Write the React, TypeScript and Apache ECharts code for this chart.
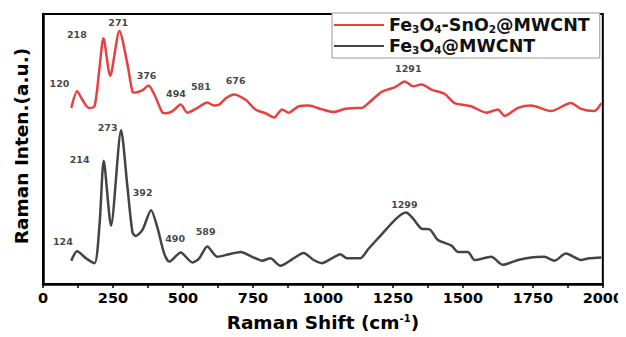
import React, { useEffect, useRef } from "react";
import * as echarts from "echarts";

const redName = "Fe3O4-SnO2@MWCNT";
const blackName = "Fe3O4@MWCNT";

const redX = [101,122,140,163,184,200,216,240,273,302,320,332,356,377,398,427,439,463,492,516,546,587,611,629,653,682,724,759,795,825,854,878,914,949,997,1038,1080,1121,1139,1169,1210,1258,1293,1323,1352,1388,1435,1471,1530,1584,1625,1649,1697,1744,1815,1886,1922,1969,1995];
const redY = [183.3,200.7,192,183.3,185,220,255.7,216.7,263.3,228.3,200,199.3,201.7,206.7,197,178.3,177.7,180,186.7,178.3,182.3,189,185.7,186.7,193.3,197.3,191.7,181.7,177.7,173.3,181.7,178.3,185,185.7,181.7,179,182.3,183.3,183.3,190,200,205,210.7,205.7,207.7,202.3,197.7,188.3,185,178.3,181.7,175,183.3,185.7,180,188.3,182.3,180,188.3];

const blackX = [101,122,154,184,202,217,243,279,302,320,332,356,386,409,433,451,492,534,558,587,623,665,706,747,783,812,848,890,931,967,997,1032,1062,1086,1133,1163,1210,1263,1297,1323,1352,1382,1411,1459,1483,1518,1542,1601,1643,1697,1744,1791,1827,1868,1922,1951,1995];
const blackY = [24.3,34,26.7,21.7,62,128.3,60.7,160,100,53.3,50,56.7,76.7,58.3,31.7,23.3,32.7,22.3,26.7,39,28.3,31,33.3,28.3,24.3,26.7,19,25.7,32.3,25,21.7,26.7,31,26.7,26.7,36.7,51.7,68.3,74.3,67.7,57.7,56.7,45.7,40,33.3,33.3,25,28.3,20,25,27.7,28.3,24.3,31.7,25,26.7,27.7];

const peakLabels = ["120","218","271","376","494","581","676","1291","273","214","392","124","490","589","1299"];
const peakLabelX = [59,121,269,370,475,564,688,1305,231,131,356,71,472,581,1291];
const peakLabelY = [209,260,271.7,216.7,198.3,206,211.7,224,162.7,130,95,44,47.7,55,82.7];

const xTicks = [0,250,500,750,1000,1250,1500,1750,2000];

const toRich = (name: string) => "{n|" + name.replace(/(\d)/g, "}{s|$1}{n|") + "}";

export default function App() {
  const ref = useRef<HTMLDivElement>(null);
  useEffect(() => {
    if (!ref.current) return;
    const chart = echarts.init(ref.current, undefined, { renderer: "svg" });
    const font = "DejaVu Sans";
    chart.setOption({
      animation: false,
      backgroundColor: "#fff",
      grid: { left: 43, right: 21, top: 14, bottom: 42, show: true, borderColor: "#000", borderWidth: 2 },
      legend: {
        data: [redName, blackName],
        orient: "vertical",
        left: 332,
        top: 13,
        padding: [3, 10, 3, 2],
        itemGap: 3,
        itemWidth: 50,
        itemHeight: 2,
        icon: "rect",
        borderColor: "#999",
        borderWidth: 1,
        backgroundColor: "#fff",
        formatter: (n: string) => toRich(n),
        textStyle: {
          rich: {
            n: { fontSize: 17.5, fontWeight: "bold", fontFamily: font, color: "#111", lineHeight: 18 },
            s: { fontSize: 10.5, fontWeight: "bold", fontFamily: font, color: "#111", lineHeight: 18, verticalAlign: "bottom", padding: [7, 0, 0, 0] },
          },
        },
      },
      xAxis: {
        type: "value",
        min: 0,
        max: 2000,
        interval: 250,
        name: "{a|Raman Shift (cm}{b|-1}{a|)}",
        nameLocation: "middle",
        nameGap: 29,
        nameTextStyle: {
          rich: {
            a: { fontSize: 18.5, fontWeight: "bold", fontFamily: font, color: "#000" },
            b: { fontSize: 10, fontWeight: "bold", fontFamily: font, color: "#000", verticalAlign: "top", padding: [0, 0, 9, 0] },
          },
        },
        axisLine: { lineStyle: { color: "#000", width: 2.5 } },
        axisTick: { show: true, length: 4, lineStyle: { color: "#000", width: 1.5 } },
        minorTick: { show: true, splitNumber: 2, length: 4, lineStyle: { color: "#000", width: 1.5 } },
        splitLine: { show: false },
        axisLabel: {
          fontSize: 14.5, fontWeight: "bold", fontFamily: font, color: "#000", margin: 6,
          formatter: (v: number) => (xTicks.includes(v) ? String(v) : ""),
        },
      },
      yAxis: {
        type: "value",
        min: 0,
        max: 281,
        axisLine: { show: true, lineStyle: { color: "#000", width: 2.5 } },
        axisTick: { show: false },
        axisLabel: { show: false },
        splitLine: { show: false },
      },
      graphic: [
        {
          type: "text",
          x: 21,
          y: 146,
          rotation: Math.PI / 2,
          style: {
            text: "Raman Inten.(a.u.)",
            fontSize: 18.5,
            fontWeight: "bold",
            fontFamily: font,
            fill: "#000",
            align: "center",
            verticalAlign: "middle",
          },
        },
      ],
      series: [
        {
          name: redName,
          type: "line",
          data: redX.map((x, i) => [x, redY[i]]),
          symbol: "none",
          smooth: 0.25,
          lineStyle: { color: "#e8403f", width: 2.5 },
          itemStyle: { color: "#e8403f" },
          z: 3,
        },
        {
          name: blackName,
          type: "line",
          data: blackX.map((x, i) => [x, blackY[i]]),
          symbol: "none",
          smooth: 0.25,
          lineStyle: { color: "#444", width: 2.5 },
          itemStyle: { color: "#444" },
          z: 3,
        },
        {
          name: "labels",
          type: "scatter",
          data: peakLabelX.map((x, i) => ({ value: [x, peakLabelY[i]], name: peakLabels[i] })),
          symbolSize: 0,
          label: {
            show: true,
            position: "inside",
            formatter: (p: any) => p.name,
            fontSize: 9.5,
            fontWeight: "bold",
            fontFamily: font,
            color: "#111",
          },
          silent: true,
          z: 4,
        },
      ],
    });
    return () => chart.dispose();
  }, []);
  return <div ref={ref} style={{ width: 626, height: 337, marginLeft: -8, marginTop: -8 }} />;
}
